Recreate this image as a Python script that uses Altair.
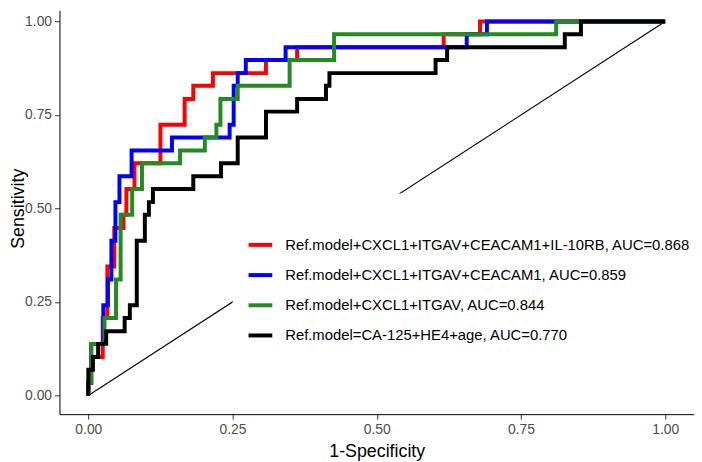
import altair as alt
import pandas as pd

FONT = "Liberation Sans"

labels = [
    "Ref.model+CXCL1+ITGAV+CEACAM1+IL-10RB, AUC=0.868",
    "Ref.model+CXCL1+ITGAV+CEACAM1, AUC=0.859",
    "Ref.model+CXCL1+ITGAV, AUC=0.844",
    "Ref.model=CA-125+HE4+age, AUC=0.770",
]
colors = ["#FF0000", "#0000FF", "#228B22", "#000000"]

# ROC points (1-specificity, sensitivity), drawn as step-after
red_fpr = [0, 0, 0.005, 0.025, 0.033, 0.045, 0.061, 0.066, 0.080, 0.125, 0.167, 0.182, 0.216, 0.308, 0.362, 0.616, 0.679, 1]
red_tpr = [0, 0.034, 0.103, 0.207, 0.345, 0.448, 0.483, 0.552, 0.621, 0.724, 0.793, 0.828, 0.862, 0.897, 0.931, 0.966, 1, 1]

blue_fpr = [0, 0, 0.005, 0.026, 0.034, 0.040, 0.047, 0.054, 0.075, 0.145, 0.245, 0.252, 0.259, 0.273, 0.342, 0.656, 0.691, 1]
blue_tpr = [0, 0.034, 0.138, 0.241, 0.310, 0.414, 0.517, 0.586, 0.655, 0.690, 0.724, 0.828, 0.862, 0.897, 0.931, 0.966, 1, 1]

green_fpr = [0, 0, 0.005, 0.028, 0.048, 0.056, 0.076, 0.093, 0.159, 0.202, 0.222, 0.229, 0.259, 0.349, 0.426, 0.811, 1]
green_tpr = [0, 0.034, 0.138, 0.207, 0.310, 0.483, 0.552, 0.621, 0.655, 0.690, 0.724, 0.793, 0.828, 0.897, 0.966, 1, 1]

black_fpr = [0, 0, 0.008, 0.017, 0.031, 0.063, 0.072, 0.084, 0.098, 0.105, 0.112, 0.182, 0.230, 0.259, 0.308, 0.362, 0.412, 0.418, 0.602, 0.622, 0.826, 0.854, 1]
black_tpr = [0, 0.069, 0.103, 0.138, 0.172, 0.207, 0.241, 0.414, 0.483, 0.517, 0.552, 0.586, 0.621, 0.690, 0.759, 0.793, 0.828, 0.862, 0.897, 0.931, 0.966, 1, 1]

diag_x = [0, 1]
diag_y = [0, 1]

ticks = [0, 0.25, 0.5, 0.75, 1.0]

rows = []
for lab, fx, ty in zip(labels, [red_fpr, blue_fpr, green_fpr, black_fpr],
                       [red_tpr, blue_tpr, green_tpr, black_tpr]):
    for i, (a, b) in enumerate(zip(fx, ty)):
        rows.append({"model": lab, "fpr": a, "tpr": b, "idx": i})
df = pd.DataFrame(rows)
diag = pd.DataFrame({"fpr": diag_x, "tpr": diag_y})

xscale = alt.Scale(domain=[-0.05, 1.05], nice=False, zero=False)
yscale = alt.Scale(domain=[-0.05, 1.03], nice=False, zero=False)

xaxis = alt.Axis(values=ticks, format=".2f", title="1-Specificity", grid=False,
                 tickSize=5, labelPadding=4, titleY=43, titleBaseline="alphabetic")
yaxis = alt.Axis(values=ticks, format=".2f", title="Sensitivity", grid=False,
                 tickSize=5, labelPadding=3, titleX=-36, titleY=200, titleAngle=270,
                 titleBaseline="alphabetic", titleAlign="center")

diag_layer = alt.Chart(diag).mark_line(color="black", strokeWidth=1.1).encode(
    x=alt.X("fpr:Q", scale=xscale, axis=xaxis),
    y=alt.Y("tpr:Q", scale=yscale, axis=yaxis),
)

legend = alt.Legend(
    orient="none", legendX=175, legendY=185, title=" ", titleFontSize=15, titlePadding=9,
    padding=14, fillColor="white", symbolType="stroke", symbolStrokeWidth=4,
    symbolSize=576, labelFontSize=15, labelColor="black", labelFont=FONT,
    labelLimit=700, labelOffset=11, rowPadding=8.5,
)

layers = [diag_layer]
for lab in labels:
    layers.append(
        alt.Chart(df).transform_filter(alt.datum.model == lab).mark_line(
            strokeWidth=4, interpolate="step-after"
        ).encode(
            x=alt.X("fpr:Q", scale=xscale),
            y=alt.Y("tpr:Q", scale=yscale),
            order="idx:Q",
            color=alt.Color("model:N", scale=alt.Scale(domain=labels, range=colors),
                            legend=legend),
        )
    )

chart = alt.layer(*layers).properties(
    width=641, height=408,
    autosize=alt.AutoSizeParams(type="none"),
    padding={"left": 52, "top": 0, "right": 0, "bottom": 46},
).configure_view(stroke=None).configure_axis(
    labelFont=FONT, titleFont=FONT, labelFontSize=14, titleFontSize=18,
    labelColor="#4D4D4D", titleColor="black", titleFontWeight="normal",
    domainColor="black", domainWidth=1, tickColor="#333333", tickWidth=1,
).configure_legend(titleFont=FONT)

chart.save("out.html", embed_options={"renderer": "svg", "actions": False})
